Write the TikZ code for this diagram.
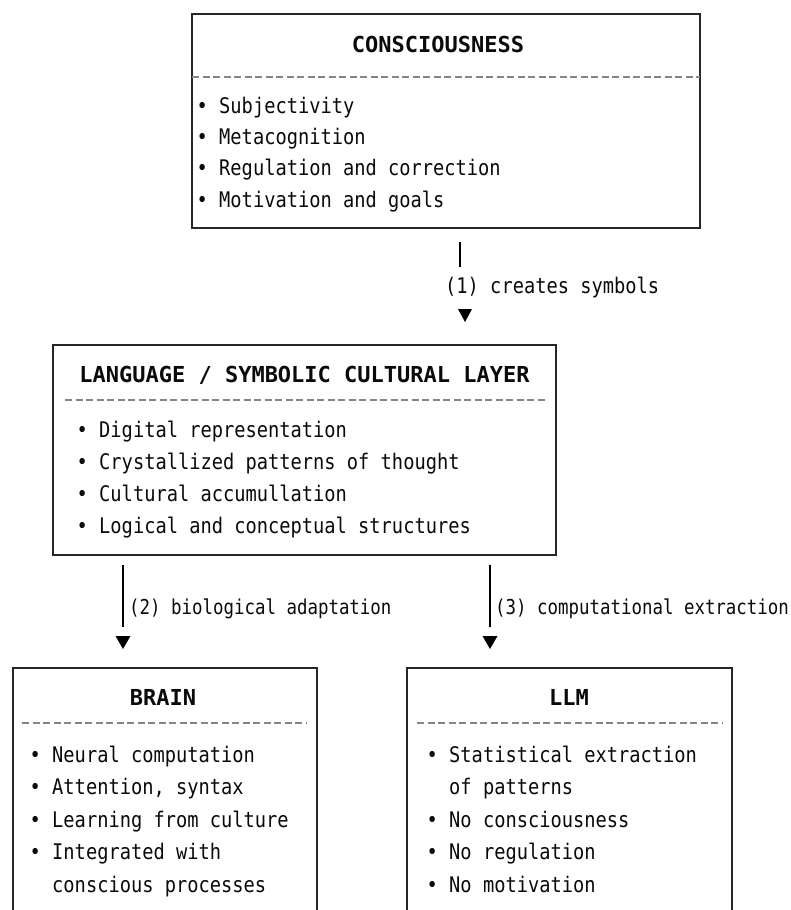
\documentclass[tikz,border=0pt]{standalone}
\usepackage{fontspec}
\newfontfamily\itemfont[FakeStretch=0.87]{DejaVu Sans Mono}
\newfontfamily\labfont[FakeStretch=0.85]{DejaVu Sans Mono}
\newfontfamily\titlefont{DejaVu Sans Mono}
\definecolor{boxc}{HTML}{262626}
\definecolor{txt}{HTML}{0A0A0A}
\definecolor{sepc}{HTML}{858585}
\tikzset{
  box/.style={draw=boxc, line width=2pt, inner sep=0pt, outer sep=0pt, rectangle},
  ttl/.style={anchor=base, inner sep=0pt, text=txt, font=\titlefont\bfseries\fontsize{22}{22}\selectfont},
  itm/.style={anchor=base west, inner sep=0pt, text=txt, font=\itemfont\fontsize{21.5}{21.5}\selectfont},
  lbl/.style={anchor=base west, inner sep=0pt, text=txt, font=\labfont\fontsize{20.5}{20.5}\selectfont},
  lblone/.style={anchor=base west, inner sep=0pt, text=txt, font=\itemfont\fontsize{21.5}{21.5}\selectfont},
  sepline/.style={draw=sepc, line width=1.2pt, dash pattern=on 7pt off 3.5pt},
  conn/.style={draw=black, line width=2pt},
  head/.style={fill=black}
}
\begin{document}
\begin{tikzpicture}[x=1pt,y=-1pt]
\useasboundingbox[fill=white] (0,0) rectangle (791,910);
\clip (0,0) rectangle (791,910);

% ---------- boxes ----------
\node[box, minimum width=508pt, minimum height=214pt] (top) at (446,121) {};
\node[box, minimum width=503pt, minimum height=210pt] (mid) at (304.5,450) {};
\node[box, minimum width=304pt, minimum height=280pt] (brain) at (165,808) {};
\node[box, minimum width=325pt, minimum height=280pt] (llm) at (569.5,808) {};

% ---------- top box ----------
\node[ttl] (t0) at (438,52) {CONSCIOUSNESS};
\draw[sepline] (192,77) -- (700,77);
\node[itm] (t1) at (196.5,113) {• Subjectivity};
\node[itm] (t2) at (196.5,144.3) {• Metacognition};
\node[itm] (t3) at (196.5,175.6) {• Regulation and correction};
\node[itm] (t4) at (196.5,207) {• Motivation and goals};

% ---------- middle box ----------
\node[ttl] (m0) at (304.5,382) {LANGUAGE / SYMBOLIC CULTURAL LAYER};
\draw[sepline] (65,400) -- (547,400);
\node[itm] (m1) at (76.5,437) {• Digital representation};
\node[itm] (m2) at (76.5,469) {• Crystallized patterns of thought};
\node[itm] (m3) at (76.5,501) {• Cultural accumullation};
\node[itm] (m4) at (76.5,533) {• Logical and conceptual structures};

% ---------- brain box ----------
\node[ttl] (b0) at (163,705) {BRAIN};
\draw[sepline] (22,723) -- (307,723);
\node[itm] (b1) at (29.5,762) {• Neural computation};
\node[itm] (b2) at (29.5,794.5) {• Attention, syntax};
\node[itm] (b3) at (29.5,827) {• Learning from culture};
\node[itm] (b4) at (29.5,859.5) {• Integrated with};
\node[itm] (b5) at (29.5,892) {\hphantom{• }conscious processes};

% ---------- llm box ----------
\node[ttl] (l0) at (569,705) {LLM};
\draw[sepline] (417,723) -- (722,723);
\node[itm] (l1) at (426.5,762) {• Statistical extraction};
\node[itm] (l2) at (426.5,794.5) {\hphantom{• }of patterns};
\node[itm] (l3) at (426.5,827) {• No consciousness};
\node[itm] (l4) at (426.5,859.5) {• No regulation};
\node[itm] (l5) at (426.5,892) {• No motivation};

% ---------- connector 1 ----------
\coordinate (a1s) at (460,242);
\coordinate (a1e) at (460,267);
\coordinate (h1) at (465,309);
\draw[conn] (a1s) -- (a1e);
\node[lblone] (c1) at (445,293) {(1) creates symbols};
\fill[head] (h1) ++(-7,0) -- ++(14,0) -- ++(-7,13) -- cycle;

% ---------- connector 2 ----------
\coordinate (a2s) at (123,565);
\coordinate (a2e) at (123,627);
\coordinate (h2) at (123,636);
\draw[conn] (a2s) -- (a2e);
\node[lbl] (c2) at (129,614) {(2) biological adaptation};
\fill[head] (h2) ++(-7.5,0) -- ++(15,0) -- ++(-7.5,13) -- cycle;

% ---------- connector 3 ----------
\coordinate (a3s) at (490,565);
\coordinate (a3e) at (490,627);
\coordinate (h3) at (490,636);
\draw[conn] (a3s) -- (a3e);
\node[lbl] (c3) at (495,614) {(3) computational extraction};
\fill[head] (h3) ++(-7.5,0) -- ++(15,0) -- ++(-7.5,13) -- cycle;
\end{tikzpicture}
\end{document}
